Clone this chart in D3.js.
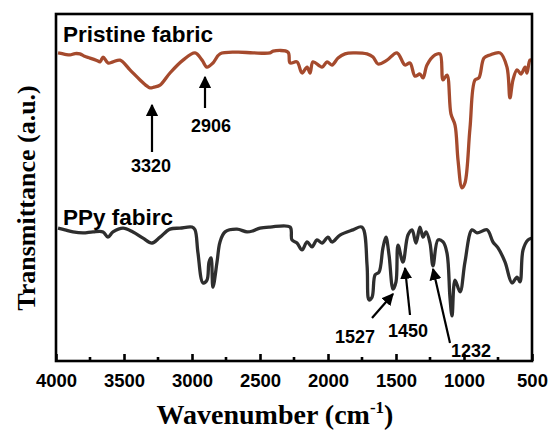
<!DOCTYPE html>
<html><head><meta charset="utf-8">
<script src="https://cdn.jsdelivr.net/npm/d3@7"></script>
<style>body{margin:0;background:#fff}</style>
</head><body>
<svg id="c" width="560" height="436"></svg>
<script>
const xTicks = [4000,3500,3000,2500,2000,1500,1000,500];
const pristineWn = [3985,3934,3897,3860,3824,3790,3750,3700,3676,3654,3618,3581,3529,3456,3382,3330,3309,3280,3235,3162,3066,2978,2926,2890,2846,2794,2669,2551,2426,2404,2294,2279,2228,2191,2154,2132,2110,2044,2007,1971,1926,1875,1816,1713,1669,1632,1566,1493,1434,1397,1360,1324,1301,1272,1213,1176,1154,1125,1096,1066,1044,1015,993,956,919,890,853,809,735,684,662,640,610,581,551,537,515,500];
const pristineT  = [88.8,88.4,88.2,88.6,88.5,87.8,87.3,86.6,86.2,87.6,85.9,86.2,86.7,83.9,81.0,79.2,78.7,78.9,79.5,83.0,86.7,88.8,86.7,84.7,85.9,88.5,89.0,88.8,88.8,89.3,89.0,85.9,86.2,83.0,84.7,83.0,86.2,84.7,86.2,85.3,87.3,88.5,88.8,88.5,87.6,85.6,86.7,88.8,85.3,85.9,82.1,82.7,81.6,85.3,88.2,88.5,81.0,82.4,71.2,68.0,57.9,49.9,51.3,67.1,81.0,81.6,87.3,88.2,88.8,84.7,75.8,81.0,83.9,82.7,84.7,83.0,86.7,86.7];
const ppyWn = [3985,3934,3875,3801,3728,3654,3618,3581,3507,3434,3360,3294,3235,3162,3088,3000,2978,2956,2919,2890,2875,2860,2846,2816,2794,2757,2669,2596,2551,2500,2426,2279,2265,2228,2191,2154,2118,2081,2044,2000,1971,1912,1816,1750,1713,1706,1699,1676,1654,1625,1596,1574,1551,1522,1500,1485,1449,1412,1382,1353,1324,1301,1279,1250,1228,1191,1154,1125,1103,1088,1066,1029,993,941,904,831,787,750,698,647,610,588,566,529,500];
const ppyT  = [38.3,37.8,37.2,36.9,37.2,37.2,35.7,37.2,38.3,37.2,35.4,34.0,35.7,38.0,38.3,38.6,37.8,31.1,22.5,23.3,28.5,29.7,21.3,28.5,34.3,37.2,38.0,37.2,37.5,38.3,38.6,38.6,34.9,34.0,32.0,34.3,32.9,34.9,34.0,35.7,34.3,36.3,37.8,38.6,27.7,18.5,17.6,18.4,24.8,25.6,32.6,35.7,30.5,20.7,22.8,33.4,28.5,36.3,37.8,34.0,38.6,35.7,37.2,34.0,27.4,34.9,34.3,31.1,18.2,13.0,23.3,19.9,28.5,37.8,36.9,37.8,34.3,32.6,28.5,22.5,24.2,22.8,32.0,34.9,35.4];
const seriesNames = ["Pristine fabric","PPy fabirc"];
const peakLabels = ["3320","2906","1527","1450","1232"];

const svg = d3.select("#c");
const L=56,R=532,T=14,B=361;
const x = d3.scaleLinear().domain([4000,500]).range([L,R]);
const y = d3.scaleLinear().domain([0,100]).range([B,T]);
const line = d3.line().x(d=>x(d[0])).y(d=>y(d[1])).curve(d3.curveCatmullRom.alpha(0.5));

svg.append("path").datum(d3.zip(pristineWn,pristineT)).attr("d",line)
  .attr("fill","none").attr("stroke","#a54a2d").attr("stroke-width",3.3).attr("stroke-linejoin","round");
svg.append("path").datum(d3.zip(ppyWn,ppyT)).attr("d",line)
  .attr("fill","none").attr("stroke","#2e2e2e").attr("stroke-width",3.3).attr("stroke-linejoin","round");

// frame
svg.append("rect").attr("x",L).attr("y",T).attr("width",R-L).attr("height",B-T)
  .attr("fill","none").attr("stroke","#000").attr("stroke-width",2.6);

// x axis
const ax = d3.axisBottom(x).tickValues(xTicks).tickSize(-7).tickPadding(13).tickFormat(d3.format("d"));
const g = svg.append("g").attr("transform",`translate(0,${B})`).call(ax);
g.select(".domain").remove();
g.selectAll(".tick line").attr("stroke","#000").attr("stroke-width",2.6);
g.selectAll(".tick text").attr("font-family","'Liberation Sans',Arial,sans-serif")
  .attr("font-weight","bold").attr("font-size",18.5).attr("fill","#000");
const minor = d3.range(3750,500,-500);
svg.append("g").selectAll("line").data(minor).join("line")
  .attr("x1",d=>x(d)).attr("x2",d=>x(d)).attr("y1",B).attr("y2",B-4)
  .attr("stroke","#000").attr("stroke-width",2.6);

// axis titles
const xt = svg.append("text").attr("x",275).attr("y",424).attr("text-anchor","middle")
  .attr("font-family","'Liberation Serif','Times New Roman',serif").attr("font-weight","bold").attr("font-size",28).attr("fill","#000");
xt.append("tspan").text("Wavenumber (cm");
xt.append("tspan").attr("font-size",17).attr("dy",-11).text("-1");
xt.append("tspan").attr("dy",11).text(")");
svg.append("text").attr("transform","translate(35,198) rotate(-90)").attr("text-anchor","middle")
  .attr("font-family","'Liberation Serif','Times New Roman',serif").attr("font-weight","bold").attr("font-size",26).attr("fill","#000")
  .text("Transmittance (a.u.)");

// series names
const sf = "'Liberation Sans',Arial,sans-serif";
svg.append("text").attr("x",63).attr("y",42).attr("font-family",sf).attr("font-weight","bold").attr("font-size",22.5).text(seriesNames[0]);
svg.append("text").attr("x",63).attr("y",225).attr("font-family",sf).attr("font-weight","bold").attr("font-size",22.5).text(seriesNames[1]);

// annotations
svg.append("defs").append("marker").attr("id","ah").attr("viewBox","0 0 10 10").attr("refX",9).attr("refY",5)
  .attr("markerWidth",5.5).attr("markerHeight",5.5).attr("markerUnits","strokeWidth").attr("orient","auto")
  .append("path").attr("d","M0,0L10,5L0,10z").attr("fill","#000");
const ann = [
  {t:peakLabels[0], x1:152,y1:152,x2:152,y2:105, lx:151, ly:172},
  {t:peakLabels[1], x1:205,y1:108,x2:205,y2:77, lx:211, ly:132},
  {t:peakLabels[2], x1:372,y1:318,x2:393,y2:294, lx:355, ly:343},
  {t:peakLabels[3], x1:410,y1:315,x2:405,y2:268, lx:408, ly:337},
  {t:peakLabels[4], x1:450,y1:343,x2:433,y2:269, lx:471, ly:357}
];
ann.forEach(a=>{
  svg.append("line").attr("x1",a.x1).attr("y1",a.y1).attr("x2",a.x2).attr("y2",a.y2)
    .attr("stroke","#000").attr("stroke-width",2.2).attr("marker-end","url(#ah)");
  svg.append("text").attr("x",a.lx).attr("y",a.ly).attr("text-anchor","middle")
    .attr("font-family",sf).attr("font-weight","bold").attr("font-size",18).text(a.t);
});
</script>
</body></html>
